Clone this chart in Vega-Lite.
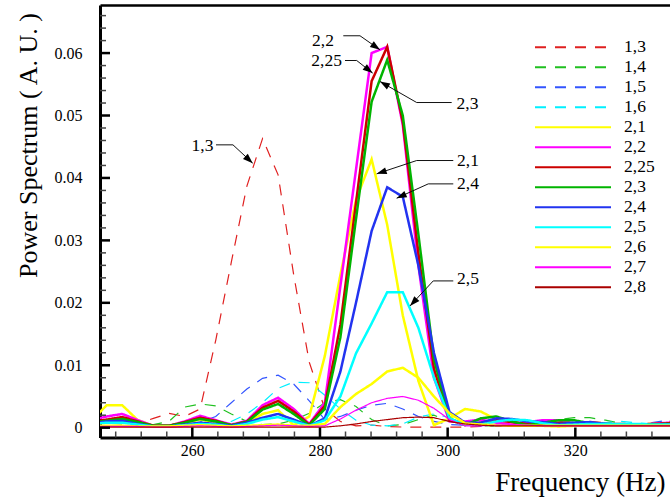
{
"$schema":"https://vega.github.io/schema/vega-lite/v6.json",
"width":570,"height":432.5,
"autosize":{"type":"none"},
"padding":{"left":100,"top":5,"right":0,"bottom":62.5},
"background":"white",
"datasets":{
"spectra":[
{"series":"1,3","freq":244.14,"power":0.0002},{"series":"1,3","freq":246.58,"power":0.0002},{"series":"1,3","freq":249.02,"power":0.0002},{"series":"1,3","freq":251.46,"power":0.0006},{"series":"1,3","freq":253.91,"power":0.0015},{"series":"1,3","freq":256.35,"power":0.0023},{"series":"1,3","freq":258.79,"power":0.0018},{"series":"1,3","freq":261.23,"power":0.003},{"series":"1,3","freq":263.67,"power":0.014},{"series":"1,3","freq":266.11,"power":0.0265},{"series":"1,3","freq":268.55,"power":0.0387},{"series":"1,3","freq":271.0,"power":0.0463},{"series":"1,3","freq":273.44,"power":0.0405},{"series":"1,3","freq":275.88,"power":0.0245},{"series":"1,3","freq":278.32,"power":0.0105},{"series":"1,3","freq":280.76,"power":0.003},{"series":"1,3","freq":283.2,"power":0.001},{"series":"1,3","freq":285.64,"power":0.0003},{"series":"1,3","freq":288.09,"power":0.0004},{"series":"1,3","freq":290.53,"power":0.0002},{"series":"1,3","freq":292.97,"power":0.0001},{"series":"1,3","freq":295.41,"power":0.0001},{"series":"1,3","freq":297.85,"power":0.0001},{"series":"1,3","freq":300.29,"power":0.0001},{"series":"1,3","freq":302.73,"power":0.0001},{"series":"1,3","freq":305.18,"power":0.0002},{"series":"1,3","freq":307.62,"power":0.0003},{"series":"1,3","freq":310.06,"power":0.0002},{"series":"1,3","freq":312.5,"power":0.0002},{"series":"1,3","freq":314.94,"power":0.0003},{"series":"1,3","freq":317.38,"power":0.0004},{"series":"1,3","freq":319.82,"power":0.0006},{"series":"1,3","freq":322.27,"power":0.001},{"series":"1,3","freq":324.71,"power":0.0008},{"series":"1,3","freq":327.15,"power":0.0003},{"series":"1,3","freq":329.59,"power":0.0003},{"series":"1,3","freq":332.03,"power":0.0007},{"series":"1,3","freq":334.47,"power":0.001},{"series":"1,3","freq":336.91,"power":0.001},
{"series":"1,4","freq":244.14,"power":0.0006},{"series":"1,4","freq":246.58,"power":0.0007},{"series":"1,4","freq":249.02,"power":0.0006},{"series":"1,4","freq":251.46,"power":0.0005},{"series":"1,4","freq":253.91,"power":0.0005},{"series":"1,4","freq":256.35,"power":0.001},{"series":"1,4","freq":258.79,"power":0.0033},{"series":"1,4","freq":261.23,"power":0.0038},{"series":"1,4","freq":263.67,"power":0.0035},{"series":"1,4","freq":266.11,"power":0.0022},{"series":"1,4","freq":268.55,"power":0.001},{"series":"1,4","freq":271.0,"power":0.0005},{"series":"1,4","freq":273.44,"power":0.0006},{"series":"1,4","freq":275.88,"power":0.0012},{"series":"1,4","freq":278.32,"power":0.0023},{"series":"1,4","freq":280.76,"power":0.004},{"series":"1,4","freq":283.2,"power":0.0045},{"series":"1,4","freq":285.64,"power":0.0034},{"series":"1,4","freq":288.09,"power":0.0013},{"series":"1,4","freq":290.53,"power":0.0003},{"series":"1,4","freq":292.97,"power":0.0005},{"series":"1,4","freq":295.41,"power":0.0013},{"series":"1,4","freq":297.85,"power":0.002},{"series":"1,4","freq":300.29,"power":0.001},{"series":"1,4","freq":302.73,"power":0.0005},{"series":"1,4","freq":305.18,"power":0.0003},{"series":"1,4","freq":307.62,"power":0.0003},{"series":"1,4","freq":310.06,"power":0.0004},{"series":"1,4","freq":312.5,"power":0.0006},{"series":"1,4","freq":314.94,"power":0.0009},{"series":"1,4","freq":317.38,"power":0.0013},{"series":"1,4","freq":319.82,"power":0.0016},{"series":"1,4","freq":322.27,"power":0.0016},{"series":"1,4","freq":324.71,"power":0.0012},{"series":"1,4","freq":327.15,"power":0.0007},{"series":"1,4","freq":329.59,"power":0.0004},{"series":"1,4","freq":332.03,"power":0.0004},{"series":"1,4","freq":334.47,"power":0.0005},{"series":"1,4","freq":336.91,"power":0.0006},
{"series":"1,5","freq":244.14,"power":0.0004},{"series":"1,5","freq":246.58,"power":0.0003},{"series":"1,5","freq":249.02,"power":0.0003},{"series":"1,5","freq":251.46,"power":0.0003},{"series":"1,5","freq":253.91,"power":0.0003},{"series":"1,5","freq":256.35,"power":0.0004},{"series":"1,5","freq":258.79,"power":0.0005},{"series":"1,5","freq":261.23,"power":0.0009},{"series":"1,5","freq":263.67,"power":0.0018},{"series":"1,5","freq":266.11,"power":0.004},{"series":"1,5","freq":268.55,"power":0.0062},{"series":"1,5","freq":271.0,"power":0.0079},{"series":"1,5","freq":273.44,"power":0.0084},{"series":"1,5","freq":275.88,"power":0.007},{"series":"1,5","freq":278.32,"power":0.0043},{"series":"1,5","freq":280.76,"power":0.0013},{"series":"1,5","freq":283.2,"power":0.0018},{"series":"1,5","freq":285.64,"power":0.0028},{"series":"1,5","freq":288.09,"power":0.0036},{"series":"1,5","freq":290.53,"power":0.0039},{"series":"1,5","freq":292.97,"power":0.003},{"series":"1,5","freq":295.41,"power":0.0018},{"series":"1,5","freq":297.85,"power":0.001},{"series":"1,5","freq":300.29,"power":0.0005},{"series":"1,5","freq":302.73,"power":0.0004},{"series":"1,5","freq":305.18,"power":0.0003},{"series":"1,5","freq":307.62,"power":0.0003},{"series":"1,5","freq":310.06,"power":0.0003},{"series":"1,5","freq":312.5,"power":0.0004},{"series":"1,5","freq":314.94,"power":0.0004},{"series":"1,5","freq":317.38,"power":0.0005},{"series":"1,5","freq":319.82,"power":0.0005},{"series":"1,5","freq":322.27,"power":0.0004},{"series":"1,5","freq":324.71,"power":0.0004},{"series":"1,5","freq":327.15,"power":0.0005},{"series":"1,5","freq":329.59,"power":0.0006},{"series":"1,5","freq":332.03,"power":0.0008},{"series":"1,5","freq":334.47,"power":0.0012},{"series":"1,5","freq":336.91,"power":0.0013},
{"series":"1,6","freq":244.14,"power":0.0002},{"series":"1,6","freq":246.58,"power":0.0002},{"series":"1,6","freq":249.02,"power":0.0002},{"series":"1,6","freq":251.46,"power":0.0002},{"series":"1,6","freq":253.91,"power":0.0002},{"series":"1,6","freq":256.35,"power":0.0002},{"series":"1,6","freq":258.79,"power":0.0002},{"series":"1,6","freq":261.23,"power":0.0003},{"series":"1,6","freq":263.67,"power":0.0005},{"series":"1,6","freq":266.11,"power":0.001},{"series":"1,6","freq":268.55,"power":0.0022},{"series":"1,6","freq":271.0,"power":0.004},{"series":"1,6","freq":273.44,"power":0.0063},{"series":"1,6","freq":275.88,"power":0.0073},{"series":"1,6","freq":278.32,"power":0.0072},{"series":"1,6","freq":280.76,"power":0.0052},{"series":"1,6","freq":283.2,"power":0.003},{"series":"1,6","freq":285.64,"power":0.0012},{"series":"1,6","freq":288.09,"power":0.0004},{"series":"1,6","freq":290.53,"power":0.0003},{"series":"1,6","freq":292.97,"power":0.0006},{"series":"1,6","freq":295.41,"power":0.0017},{"series":"1,6","freq":297.85,"power":0.0022},{"series":"1,6","freq":300.29,"power":0.0016},{"series":"1,6","freq":302.73,"power":0.0008},{"series":"1,6","freq":305.18,"power":0.0005},{"series":"1,6","freq":307.62,"power":0.0004},{"series":"1,6","freq":310.06,"power":0.0004},{"series":"1,6","freq":312.5,"power":0.0005},{"series":"1,6","freq":314.94,"power":0.0007},{"series":"1,6","freq":317.38,"power":0.0006},{"series":"1,6","freq":319.82,"power":0.0005},{"series":"1,6","freq":322.27,"power":0.0006},{"series":"1,6","freq":324.71,"power":0.0008},{"series":"1,6","freq":327.15,"power":0.001},{"series":"1,6","freq":329.59,"power":0.0008},{"series":"1,6","freq":332.03,"power":0.0006},{"series":"1,6","freq":334.47,"power":0.0005},{"series":"1,6","freq":336.91,"power":0.0005},
{"series":"2,1","freq":244.14,"power":0.001},{"series":"2,1","freq":246.58,"power":0.0036},{"series":"2,1","freq":249.02,"power":0.0036},{"series":"2,1","freq":251.46,"power":0.0012},{"series":"2,1","freq":253.91,"power":0.0003},{"series":"2,1","freq":256.35,"power":0.0003},{"series":"2,1","freq":258.79,"power":0.0008},{"series":"2,1","freq":261.23,"power":0.0013},{"series":"2,1","freq":263.67,"power":0.0009},{"series":"2,1","freq":266.11,"power":0.0003},{"series":"2,1","freq":268.55,"power":0.0008},{"series":"2,1","freq":271.0,"power":0.0022},{"series":"2,1","freq":273.44,"power":0.0028},{"series":"2,1","freq":275.88,"power":0.0004},{"series":"2,1","freq":278.32,"power":0.0018},{"series":"2,1","freq":280.76,"power":0.0115},{"series":"2,1","freq":283.2,"power":0.0245},{"series":"2,1","freq":285.64,"power":0.0365},{"series":"2,1","freq":288.09,"power":0.043},{"series":"2,1","freq":290.53,"power":0.0325},{"series":"2,1","freq":292.97,"power":0.018},{"series":"2,1","freq":295.41,"power":0.0075},{"series":"2,1","freq":297.85,"power":0.0004},{"series":"2,1","freq":300.29,"power":0.0015},{"series":"2,1","freq":302.73,"power":0.003},{"series":"2,1","freq":305.18,"power":0.0026},{"series":"2,1","freq":307.62,"power":0.0013},{"series":"2,1","freq":310.06,"power":0.0009},{"series":"2,1","freq":312.5,"power":0.0005},{"series":"2,1","freq":314.94,"power":0.0003},{"series":"2,1","freq":317.38,"power":0.0002},{"series":"2,1","freq":319.82,"power":0.0003},{"series":"2,1","freq":322.27,"power":0.0003},{"series":"2,1","freq":324.71,"power":0.0003},{"series":"2,1","freq":327.15,"power":0.0004},{"series":"2,1","freq":329.59,"power":0.0005},{"series":"2,1","freq":332.03,"power":0.0006},{"series":"2,1","freq":334.47,"power":0.0007},{"series":"2,1","freq":336.91,"power":0.0007},
{"series":"2,2","freq":244.14,"power":0.0012},{"series":"2,2","freq":246.58,"power":0.0018},{"series":"2,2","freq":249.02,"power":0.0022},{"series":"2,2","freq":251.46,"power":0.0012},{"series":"2,2","freq":253.91,"power":0.0003},{"series":"2,2","freq":256.35,"power":0.0003},{"series":"2,2","freq":258.79,"power":0.001},{"series":"2,2","freq":261.23,"power":0.0019},{"series":"2,2","freq":263.67,"power":0.0012},{"series":"2,2","freq":266.11,"power":0.0005},{"series":"2,2","freq":268.55,"power":0.0011},{"series":"2,2","freq":271.0,"power":0.0036},{"series":"2,2","freq":273.44,"power":0.0048},{"series":"2,2","freq":275.88,"power":0.003},{"series":"2,2","freq":278.32,"power":0.0006},{"series":"2,2","freq":280.76,"power":0.004},{"series":"2,2","freq":283.2,"power":0.0227},{"series":"2,2","freq":285.64,"power":0.0413},{"series":"2,2","freq":288.09,"power":0.06},{"series":"2,2","freq":290.53,"power":0.061},{"series":"2,2","freq":292.97,"power":0.0485},{"series":"2,2","freq":295.41,"power":0.026},{"series":"2,2","freq":297.85,"power":0.008},{"series":"2,2","freq":300.29,"power":0.001},{"series":"2,2","freq":302.73,"power":0.001},{"series":"2,2","freq":305.18,"power":0.0013},{"series":"2,2","freq":307.62,"power":0.0008},{"series":"2,2","freq":310.06,"power":0.0005},{"series":"2,2","freq":312.5,"power":0.0009},{"series":"2,2","freq":314.94,"power":0.0012},{"series":"2,2","freq":317.38,"power":0.0012},{"series":"2,2","freq":319.82,"power":0.0007},{"series":"2,2","freq":322.27,"power":0.0006},{"series":"2,2","freq":324.71,"power":0.0005},{"series":"2,2","freq":327.15,"power":0.0004},{"series":"2,2","freq":329.59,"power":0.0004},{"series":"2,2","freq":332.03,"power":0.0006},{"series":"2,2","freq":334.47,"power":0.0008},{"series":"2,2","freq":336.91,"power":0.0009},
{"series":"2,25","freq":244.14,"power":0.0009},{"series":"2,25","freq":246.58,"power":0.0013},{"series":"2,25","freq":249.02,"power":0.0017},{"series":"2,25","freq":251.46,"power":0.001},{"series":"2,25","freq":253.91,"power":0.0003},{"series":"2,25","freq":256.35,"power":0.0003},{"series":"2,25","freq":258.79,"power":0.0009},{"series":"2,25","freq":261.23,"power":0.0016},{"series":"2,25","freq":263.67,"power":0.0011},{"series":"2,25","freq":266.11,"power":0.0004},{"series":"2,25","freq":268.55,"power":0.001},{"series":"2,25","freq":271.0,"power":0.0032},{"series":"2,25","freq":273.44,"power":0.0043},{"series":"2,25","freq":275.88,"power":0.0026},{"series":"2,25","freq":278.32,"power":0.0005},{"series":"2,25","freq":280.76,"power":0.0035},{"series":"2,25","freq":283.2,"power":0.0165},{"series":"2,25","freq":285.64,"power":0.036},{"series":"2,25","freq":288.09,"power":0.0555},{"series":"2,25","freq":290.53,"power":0.061},{"series":"2,25","freq":292.97,"power":0.049},{"series":"2,25","freq":295.41,"power":0.028},{"series":"2,25","freq":297.85,"power":0.0095},{"series":"2,25","freq":300.29,"power":0.0012},{"series":"2,25","freq":302.73,"power":0.0005},{"series":"2,25","freq":305.18,"power":0.0008},{"series":"2,25","freq":307.62,"power":0.0012},{"series":"2,25","freq":310.06,"power":0.0009},{"series":"2,25","freq":312.5,"power":0.0006},{"series":"2,25","freq":314.94,"power":0.0006},{"series":"2,25","freq":317.38,"power":0.0008},{"series":"2,25","freq":319.82,"power":0.0007},{"series":"2,25","freq":322.27,"power":0.0006},{"series":"2,25","freq":324.71,"power":0.0006},{"series":"2,25","freq":327.15,"power":0.0006},{"series":"2,25","freq":329.59,"power":0.0005},{"series":"2,25","freq":332.03,"power":0.0006},{"series":"2,25","freq":334.47,"power":0.0007},{"series":"2,25","freq":336.91,"power":0.0008},
{"series":"2,3","freq":244.14,"power":0.0008},{"series":"2,3","freq":246.58,"power":0.0011},{"series":"2,3","freq":249.02,"power":0.0014},{"series":"2,3","freq":251.46,"power":0.0009},{"series":"2,3","freq":253.91,"power":0.0003},{"series":"2,3","freq":256.35,"power":0.0003},{"series":"2,3","freq":258.79,"power":0.0008},{"series":"2,3","freq":261.23,"power":0.0014},{"series":"2,3","freq":263.67,"power":0.001},{"series":"2,3","freq":266.11,"power":0.0004},{"series":"2,3","freq":268.55,"power":0.0009},{"series":"2,3","freq":271.0,"power":0.0029},{"series":"2,3","freq":273.44,"power":0.0038},{"series":"2,3","freq":275.88,"power":0.0022},{"series":"2,3","freq":278.32,"power":0.0004},{"series":"2,3","freq":280.76,"power":0.003},{"series":"2,3","freq":283.2,"power":0.0145},{"series":"2,3","freq":285.64,"power":0.0334},{"series":"2,3","freq":288.09,"power":0.0522},{"series":"2,3","freq":290.53,"power":0.0589},{"series":"2,3","freq":292.97,"power":0.05},{"series":"2,3","freq":295.41,"power":0.031},{"series":"2,3","freq":297.85,"power":0.011},{"series":"2,3","freq":300.29,"power":0.0015},{"series":"2,3","freq":302.73,"power":0.0004},{"series":"2,3","freq":305.18,"power":0.0015},{"series":"2,3","freq":307.62,"power":0.0018},{"series":"2,3","freq":310.06,"power":0.001},{"series":"2,3","freq":312.5,"power":0.0004},{"series":"2,3","freq":314.94,"power":0.0008},{"series":"2,3","freq":317.38,"power":0.0012},{"series":"2,3","freq":319.82,"power":0.0012},{"series":"2,3","freq":322.27,"power":0.0007},{"series":"2,3","freq":324.71,"power":0.0003},{"series":"2,3","freq":327.15,"power":0.0003},{"series":"2,3","freq":329.59,"power":0.0004},{"series":"2,3","freq":332.03,"power":0.0005},{"series":"2,3","freq":334.47,"power":0.0006},{"series":"2,3","freq":336.91,"power":0.0006},
{"series":"2,4","freq":244.14,"power":0.0007},{"series":"2,4","freq":246.58,"power":0.001},{"series":"2,4","freq":249.02,"power":0.0011},{"series":"2,4","freq":251.46,"power":0.0006},{"series":"2,4","freq":253.91,"power":0.0002},{"series":"2,4","freq":256.35,"power":0.0002},{"series":"2,4","freq":258.79,"power":0.0005},{"series":"2,4","freq":261.23,"power":0.0008},{"series":"2,4","freq":263.67,"power":0.0006},{"series":"2,4","freq":266.11,"power":0.0003},{"series":"2,4","freq":268.55,"power":0.0008},{"series":"2,4","freq":271.0,"power":0.0016},{"series":"2,4","freq":273.44,"power":0.0022},{"series":"2,4","freq":275.88,"power":0.0013},{"series":"2,4","freq":278.32,"power":0.0003},{"series":"2,4","freq":280.76,"power":0.0015},{"series":"2,4","freq":283.2,"power":0.009},{"series":"2,4","freq":285.64,"power":0.02},{"series":"2,4","freq":288.09,"power":0.0315},{"series":"2,4","freq":290.53,"power":0.0385},{"series":"2,4","freq":292.97,"power":0.037},{"series":"2,4","freq":295.41,"power":0.026},{"series":"2,4","freq":297.85,"power":0.012},{"series":"2,4","freq":300.29,"power":0.0025},{"series":"2,4","freq":302.73,"power":0.0008},{"series":"2,4","freq":305.18,"power":0.0008},{"series":"2,4","freq":307.62,"power":0.0015},{"series":"2,4","freq":310.06,"power":0.0014},{"series":"2,4","freq":312.5,"power":0.001},{"series":"2,4","freq":314.94,"power":0.0009},{"series":"2,4","freq":317.38,"power":0.0006},{"series":"2,4","freq":319.82,"power":0.0008},{"series":"2,4","freq":322.27,"power":0.0009},{"series":"2,4","freq":324.71,"power":0.0006},{"series":"2,4","freq":327.15,"power":0.0004},{"series":"2,4","freq":329.59,"power":0.0003},{"series":"2,4","freq":332.03,"power":0.0004},{"series":"2,4","freq":334.47,"power":0.0005},{"series":"2,4","freq":336.91,"power":0.0005},
{"series":"2,5","freq":244.14,"power":0.0006},{"series":"2,5","freq":246.58,"power":0.0008},{"series":"2,5","freq":249.02,"power":0.0008},{"series":"2,5","freq":251.46,"power":0.0005},{"series":"2,5","freq":253.91,"power":0.0002},{"series":"2,5","freq":256.35,"power":0.0002},{"series":"2,5","freq":258.79,"power":0.0004},{"series":"2,5","freq":261.23,"power":0.0006},{"series":"2,5","freq":263.67,"power":0.0005},{"series":"2,5","freq":266.11,"power":0.0002},{"series":"2,5","freq":268.55,"power":0.0006},{"series":"2,5","freq":271.0,"power":0.0013},{"series":"2,5","freq":273.44,"power":0.0017},{"series":"2,5","freq":275.88,"power":0.001},{"series":"2,5","freq":278.32,"power":0.0003},{"series":"2,5","freq":280.76,"power":0.0012},{"series":"2,5","freq":283.2,"power":0.005},{"series":"2,5","freq":285.64,"power":0.0119},{"series":"2,5","freq":288.09,"power":0.0167},{"series":"2,5","freq":290.53,"power":0.0217},{"series":"2,5","freq":292.97,"power":0.0217},{"series":"2,5","freq":295.41,"power":0.016},{"series":"2,5","freq":297.85,"power":0.008},{"series":"2,5","freq":300.29,"power":0.0015},{"series":"2,5","freq":302.73,"power":0.0005},{"series":"2,5","freq":305.18,"power":0.0005},{"series":"2,5","freq":307.62,"power":0.001},{"series":"2,5","freq":310.06,"power":0.0013},{"series":"2,5","freq":312.5,"power":0.0012},{"series":"2,5","freq":314.94,"power":0.0007},{"series":"2,5","freq":317.38,"power":0.0004},{"series":"2,5","freq":319.82,"power":0.0005},{"series":"2,5","freq":322.27,"power":0.0006},{"series":"2,5","freq":324.71,"power":0.0006},{"series":"2,5","freq":327.15,"power":0.0006},{"series":"2,5","freq":329.59,"power":0.0006},{"series":"2,5","freq":332.03,"power":0.0005},{"series":"2,5","freq":334.47,"power":0.0005},{"series":"2,5","freq":336.91,"power":0.0005},
{"series":"2,6","freq":244.14,"power":0.0003},{"series":"2,6","freq":246.58,"power":0.0003},{"series":"2,6","freq":249.02,"power":0.0003},{"series":"2,6","freq":251.46,"power":0.0002},{"series":"2,6","freq":253.91,"power":0.0002},{"series":"2,6","freq":256.35,"power":0.0002},{"series":"2,6","freq":258.79,"power":0.0003},{"series":"2,6","freq":261.23,"power":0.0004},{"series":"2,6","freq":263.67,"power":0.0003},{"series":"2,6","freq":266.11,"power":0.0002},{"series":"2,6","freq":268.55,"power":0.0003},{"series":"2,6","freq":271.0,"power":0.0004},{"series":"2,6","freq":273.44,"power":0.0005},{"series":"2,6","freq":275.88,"power":0.0003},{"series":"2,6","freq":278.32,"power":0.0003},{"series":"2,6","freq":280.76,"power":0.0006},{"series":"2,6","freq":283.2,"power":0.0033},{"series":"2,6","freq":285.64,"power":0.0054},{"series":"2,6","freq":288.09,"power":0.007},{"series":"2,6","freq":290.53,"power":0.009},{"series":"2,6","freq":292.97,"power":0.0096},{"series":"2,6","freq":295.41,"power":0.008},{"series":"2,6","freq":297.85,"power":0.005},{"series":"2,6","freq":300.29,"power":0.0023},{"series":"2,6","freq":302.73,"power":0.0007},{"series":"2,6","freq":305.18,"power":0.0005},{"series":"2,6","freq":307.62,"power":0.0004},{"series":"2,6","freq":310.06,"power":0.0003},{"series":"2,6","freq":312.5,"power":0.0003},{"series":"2,6","freq":314.94,"power":0.0003},{"series":"2,6","freq":317.38,"power":0.0003},{"series":"2,6","freq":319.82,"power":0.0003},{"series":"2,6","freq":322.27,"power":0.0003},{"series":"2,6","freq":324.71,"power":0.0003},{"series":"2,6","freq":327.15,"power":0.0003},{"series":"2,6","freq":329.59,"power":0.0003},{"series":"2,6","freq":332.03,"power":0.0003},{"series":"2,6","freq":334.47,"power":0.0003},{"series":"2,6","freq":336.91,"power":0.0003},
{"series":"2,7","freq":244.14,"power":0.0002},{"series":"2,7","freq":246.58,"power":0.0002},{"series":"2,7","freq":249.02,"power":0.0002},{"series":"2,7","freq":251.46,"power":0.0002},{"series":"2,7","freq":253.91,"power":0.0001},{"series":"2,7","freq":256.35,"power":0.0001},{"series":"2,7","freq":258.79,"power":0.0002},{"series":"2,7","freq":261.23,"power":0.0003},{"series":"2,7","freq":263.67,"power":0.0002},{"series":"2,7","freq":266.11,"power":0.0001},{"series":"2,7","freq":268.55,"power":0.0002},{"series":"2,7","freq":271.0,"power":0.0003},{"series":"2,7","freq":273.44,"power":0.0004},{"series":"2,7","freq":275.88,"power":0.0003},{"series":"2,7","freq":278.32,"power":0.0002},{"series":"2,7","freq":280.76,"power":0.0003},{"series":"2,7","freq":283.2,"power":0.0014},{"series":"2,7","freq":285.64,"power":0.0028},{"series":"2,7","freq":288.09,"power":0.004},{"series":"2,7","freq":290.53,"power":0.0047},{"series":"2,7","freq":292.97,"power":0.005},{"series":"2,7","freq":295.41,"power":0.0044},{"series":"2,7","freq":297.85,"power":0.0031},{"series":"2,7","freq":300.29,"power":0.0013},{"series":"2,7","freq":302.73,"power":0.0003},{"series":"2,7","freq":305.18,"power":0.0003},{"series":"2,7","freq":307.62,"power":0.0004},{"series":"2,7","freq":310.06,"power":0.0005},{"series":"2,7","freq":312.5,"power":0.0004},{"series":"2,7","freq":314.94,"power":0.0003},{"series":"2,7","freq":317.38,"power":0.0003},{"series":"2,7","freq":319.82,"power":0.0003},{"series":"2,7","freq":322.27,"power":0.0003},{"series":"2,7","freq":324.71,"power":0.0003},{"series":"2,7","freq":327.15,"power":0.0003},{"series":"2,7","freq":329.59,"power":0.0003},{"series":"2,7","freq":332.03,"power":0.0003},{"series":"2,7","freq":334.47,"power":0.0003},{"series":"2,7","freq":336.91,"power":0.0003},
{"series":"2,8","freq":244.14,"power":0.0001},{"series":"2,8","freq":246.58,"power":0.0001},{"series":"2,8","freq":249.02,"power":0.0001},{"series":"2,8","freq":251.46,"power":0.0001},{"series":"2,8","freq":253.91,"power":0.0001},{"series":"2,8","freq":256.35,"power":0.0001},{"series":"2,8","freq":258.79,"power":0.0001},{"series":"2,8","freq":261.23,"power":0.0001},{"series":"2,8","freq":263.67,"power":0.0001},{"series":"2,8","freq":266.11,"power":0.0001},{"series":"2,8","freq":268.55,"power":0.0001},{"series":"2,8","freq":271.0,"power":0.0001},{"series":"2,8","freq":273.44,"power":0.0001},{"series":"2,8","freq":275.88,"power":0.0001},{"series":"2,8","freq":278.32,"power":0.0001},{"series":"2,8","freq":280.76,"power":0.0001},{"series":"2,8","freq":283.2,"power":0.0003},{"series":"2,8","freq":285.64,"power":0.0006},{"series":"2,8","freq":288.09,"power":0.001},{"series":"2,8","freq":290.53,"power":0.0013},{"series":"2,8","freq":292.97,"power":0.0016},{"series":"2,8","freq":295.41,"power":0.0017},{"series":"2,8","freq":297.85,"power":0.0016},{"series":"2,8","freq":300.29,"power":0.001},{"series":"2,8","freq":302.73,"power":0.0006},{"series":"2,8","freq":305.18,"power":0.0004},{"series":"2,8","freq":307.62,"power":0.0003},{"series":"2,8","freq":310.06,"power":0.0003},{"series":"2,8","freq":312.5,"power":0.0003},{"series":"2,8","freq":314.94,"power":0.0003},{"series":"2,8","freq":317.38,"power":0.0003},{"series":"2,8","freq":319.82,"power":0.0003},{"series":"2,8","freq":322.27,"power":0.0003},{"series":"2,8","freq":324.71,"power":0.0003},{"series":"2,8","freq":327.15,"power":0.0003},{"series":"2,8","freq":329.59,"power":0.0003},{"series":"2,8","freq":332.03,"power":0.0003},{"series":"2,8","freq":334.47,"power":0.0003},{"series":"2,8","freq":336.91,"power":0.0003}
],
"labels":[
{"label":"1,3","freq":261.6,"power":0.04514},
{"label":"2,2","freq":280.47,"power":0.06197},
{"label":"2,25","freq":281.05,"power":0.05877},
{"label":"2,3","freq":303.1,"power":0.05188},
{"label":"2,1","freq":303.18,"power":0.04274},
{"label":"2,4","freq":303.18,"power":0.03905},
{"label":"2,5","freq":303.18,"power":0.02383}
],
"leaders":[
{"label":"1,3","ord":1,"freq":263.71,"power":0.0453},{"label":"1,3","ord":2,"freq":266.37,"power":0.0453},{"label":"1,3","ord":3,"freq":269.46,"power":0.04237},
{"label":"2,2","ord":1,"freq":283.65,"power":0.06277},{"label":"2,2","ord":2,"freq":286.27,"power":0.06277},{"label":"2,2","ord":3,"freq":289.4,"power":0.06053},
{"label":"2,25","ord":1,"freq":283.92,"power":0.05881},{"label":"2,25","ord":2,"freq":285.75,"power":0.05881},{"label":"2,25","ord":3,"freq":288.25,"power":0.05679},
{"label":"2,3","ord":1,"freq":300.63,"power":0.05208},{"label":"2,3","ord":2,"freq":295.15,"power":0.05208},{"label":"2,3","ord":3,"freq":289.4,"power":0.05545},
{"label":"2,1","ord":1,"freq":300.88,"power":0.04279},{"label":"2,1","ord":2,"freq":295.15,"power":0.04279},{"label":"2,1","ord":3,"freq":288.88,"power":0.04066},
{"label":"2,4","ord":1,"freq":300.88,"power":0.03905},{"label":"2,4","ord":2,"freq":296.96,"power":0.03905},{"label":"2,4","ord":3,"freq":292.01,"power":0.03676},
{"label":"2,5","ord":1,"freq":300.88,"power":0.02351},{"label":"2,5","ord":2,"freq":297.74,"power":0.02351},{"label":"2,5","ord":3,"freq":294.1,"power":0.0195}
],
"heads":[
{"label":"1,3","freq":269.46,"power":0.04237,"angle":133},
{"label":"2,2","freq":289.4,"power":0.06053,"angle":125},
{"label":"2,25","freq":288.25,"power":0.05679,"angle":128},
{"label":"2,3","freq":289.4,"power":0.05545,"angle":300},
{"label":"2,1","freq":288.88,"power":0.04066,"angle":252},
{"label":"2,4","freq":292.01,"power":0.03676,"angle":246},
{"label":"2,5","freq":294.1,"power":0.0195,"angle":223}
],
"xticks":[
{"freq":248,"kind":"minor"},{"freq":252,"kind":"minor"},{"freq":256,"kind":"minor"},{"freq":260,"kind":"major"},{"freq":264,"kind":"minor"},{"freq":268,"kind":"minor"},{"freq":272,"kind":"minor"},{"freq":276,"kind":"minor"},{"freq":280,"kind":"major"},{"freq":284,"kind":"minor"},{"freq":288,"kind":"minor"},{"freq":292,"kind":"minor"},{"freq":296,"kind":"minor"},{"freq":300,"kind":"major"},{"freq":304,"kind":"minor"},{"freq":308,"kind":"minor"},{"freq":312,"kind":"minor"},{"freq":316,"kind":"minor"},{"freq":320,"kind":"major"},{"freq":324,"kind":"minor"},{"freq":328,"kind":"minor"},{"freq":332,"kind":"minor"}
],
"yticks":[
{"power":0,"kind":"major"},{"power":0.002,"kind":"minor"},{"power":0.004,"kind":"minor"},{"power":0.006,"kind":"minor"},{"power":0.008,"kind":"minor"},{"power":0.01,"kind":"major"},{"power":0.012,"kind":"minor"},{"power":0.014,"kind":"minor"},{"power":0.016,"kind":"minor"},{"power":0.018,"kind":"minor"},{"power":0.02,"kind":"major"},{"power":0.022,"kind":"minor"},{"power":0.024,"kind":"minor"},{"power":0.026,"kind":"minor"},{"power":0.028,"kind":"minor"},{"power":0.03,"kind":"major"},{"power":0.032,"kind":"minor"},{"power":0.034,"kind":"minor"},{"power":0.036,"kind":"minor"},{"power":0.038,"kind":"minor"},{"power":0.04,"kind":"major"},{"power":0.042,"kind":"minor"},{"power":0.044,"kind":"minor"},{"power":0.046,"kind":"minor"},{"power":0.048,"kind":"minor"},{"power":0.05,"kind":"major"},{"power":0.052,"kind":"minor"},{"power":0.054,"kind":"minor"},{"power":0.056,"kind":"minor"},{"power":0.058,"kind":"minor"},{"power":0.06,"kind":"major"},{"power":0.062,"kind":"minor"},{"power":0.064,"kind":"minor"},{"power":0.066,"kind":"minor"}
]
},
"layer":[
{
"data":{"name":"spectra"},
"mark":{"type":"line","clip":true},
"encoding":{
"x":{"field":"freq","type":"quantitative","scale":{"domain":[245.54,334.83],"nice":false,"zero":false},
"axis":{"orient":"bottom","values":[260,280,300,320],"ticks":false,"domain":true,"domainWidth":3,"labelFontSize":16,"labelPadding":5,"title":"Frequency (Hz)","titleFontSize":27,"titleAnchor":"end","titleAlign":"right","titleX":565,"titleY":53,"titleBaseline":"alphabetic"}},
"y":{"field":"power","type":"quantitative","scale":{"domain":[-0.00157,0.0677],"nice":false,"zero":false},
"axis":{"orient":"left","values":[0,0.01,0.02,0.03,0.04,0.05,0.06],"labelExpr":"datum.value == 0 ? '0' : format(datum.value, '.2f')","ticks":false,"domain":true,"domainWidth":3,"labelFontSize":16,"labelPadding":18,"title":"Power Spectrum ( A. U. )","titleFontSize":26,"titleAngle":-90,"titleX":-64,"titleY":140,"titleAlign":"center","titleBaseline":"alphabetic"}},
"color":{"field":"series","type":"nominal",
"scale":{"domain":["1,3","1,4","1,5","1,6","2,1","2,2","2,25","2,3","2,4","2,5","2,6","2,7","2,8"],
"range":["#e02020","#20c020","#3355ff","#00f0ff","#ffff00","#ff00ff","#cc0000","#00b400","#2233f0","#00ffff","#ffff00","#ff00ff","#aa0000"]},
"legend":{"orient":"none","legendX":434,"legendY":32.3,"title":null,"padding":0,"symbolType":"stroke","symbolSize":5776,"clipHeight":20,"rowPadding":0,"labelOffset":12,"labelFontSize":17.5,"labelFont":"Liberation Serif","labelColor":"#000","labelLimit":0,"symbolStrokeWidth":2}},
"strokeDash":{"field":"series","type":"nominal",
"scale":{"domain":["1,3","1,4","1,5","1,6","2,1","2,2","2,25","2,3","2,4","2,5","2,6","2,7","2,8"],
"range":[[11,9],[11,9],[11,9],[11,9],[1,0],[1,0],[1,0],[1,0],[1,0],[1,0],[1,0],[1,0],[1,0]]},
"legend":{"orient":"none","legendX":434,"legendY":32.3,"title":null,"padding":0,"symbolType":"stroke","symbolSize":5776,"clipHeight":20,"rowPadding":0,"labelOffset":12,"labelFontSize":17.5,"labelFont":"Liberation Serif","labelColor":"#000","labelLimit":0,"symbolStrokeWidth":2}},
"strokeWidth":{"condition":{"test":"indexof(['2,1','2,2','2,25','2,3','2,4','2,5','2,6'], datum.series) >= 0","value":2.5},"value":1.2}
}
},
{
"data":{"name":"leaders"},
"mark":{"type":"line","color":"#111","strokeWidth":1},
"encoding":{
"x":{"field":"freq","type":"quantitative","scale":{"domain":[245.54,334.83],"nice":false,"zero":false},"axis":null},
"y":{"field":"power","type":"quantitative","scale":{"domain":[-0.00157,0.0677],"nice":false,"zero":false},"axis":null},
"detail":{"field":"label","type":"nominal"},
"order":{"field":"ord","type":"quantitative"}
}
},
{
"data":{"name":"heads"},
"mark":{"type":"point","shape":"M0,0L-0.35,1L0.35,1Z","filled":true,"size":400,"color":"#000","opacity":1,"strokeWidth":0},
"encoding":{
"x":{"field":"freq","type":"quantitative","scale":{"domain":[245.54,334.83],"nice":false,"zero":false},"axis":null},
"y":{"field":"power","type":"quantitative","scale":{"domain":[-0.00157,0.0677],"nice":false,"zero":false},"axis":null},
"angle":{"field":"angle","type":"quantitative","scale":null}
}
},
{
"data":{"name":"labels"},
"mark":{"type":"text","font":"Liberation Serif","fontSize":17.5,"align":"center","baseline":"middle","color":"#000"},
"encoding":{
"x":{"field":"freq","type":"quantitative","scale":{"domain":[245.54,334.83],"nice":false,"zero":false},
"axis":{"orient":"top","ticks":false,"labels":false,"domain":true,"domainWidth":2.5,"title":null}},
"y":{"field":"power","type":"quantitative","scale":{"domain":[-0.00157,0.0677],"nice":false,"zero":false},"axis":null},
"text":{"field":"label","type":"nominal"}
}
},
{
"data":{"name":"xticks"},
"transform":[{"filter":"datum.kind == 'minor'"}],
"mark":{"type":"rule","color":"#444","strokeWidth":1.5},
"encoding":{
"x":{"field":"freq","type":"quantitative","scale":{"domain":[245.54,334.83],"nice":false,"zero":false},"axis":null},
"y":{"datum":-0.00157,"type":"quantitative","scale":{"domain":[-0.00157,0.0677],"nice":false,"zero":false},"axis":null},
"y2":{"datum":-0.00061}
}
},
{
"data":{"name":"xticks"},
"transform":[{"filter":"datum.kind == 'major'"}],
"mark":{"type":"rule","color":"#000","strokeWidth":2.5},
"encoding":{
"x":{"field":"freq","type":"quantitative","scale":{"domain":[245.54,334.83],"nice":false,"zero":false},"axis":null},
"y":{"datum":-0.00157,"type":"quantitative","scale":{"domain":[-0.00157,0.0677],"nice":false,"zero":false},"axis":null},
"y2":{"datum":0.00003}
}
},
{
"data":{"name":"yticks"},
"transform":[{"filter":"datum.kind == 'minor'"}],
"mark":{"type":"rule","color":"#444","strokeWidth":1.5},
"encoding":{
"y":{"field":"power","type":"quantitative","scale":{"domain":[-0.00157,0.0677],"nice":false,"zero":false},"axis":null},
"x":{"datum":245.54,"type":"quantitative","scale":{"domain":[245.54,334.83],"nice":false,"zero":false},"axis":null},
"x2":{"datum":246.48}
}
},
{
"data":{"name":"yticks"},
"transform":[{"filter":"datum.kind == 'major'"}],
"mark":{"type":"rule","color":"#000","strokeWidth":2.5},
"encoding":{
"y":{"field":"power","type":"quantitative","scale":{"domain":[-0.00157,0.0677],"nice":false,"zero":false},"axis":null},
"x":{"datum":245.54,"type":"quantitative","scale":{"domain":[245.54,334.83],"nice":false,"zero":false},"axis":null},
"x2":{"datum":247.11}
}
}
],
"resolve":{"axis":{"x":"independent","y":"independent"}},
"config":{
"font":"Liberation Serif",
"view":{"stroke":null},
"axis":{"grid":false,"domainColor":"#000","tickColor":"#000","labelColor":"#000","titleColor":"#000","labelFont":"Liberation Serif","titleFont":"Liberation Serif","titleFontWeight":"normal"}
}
}
